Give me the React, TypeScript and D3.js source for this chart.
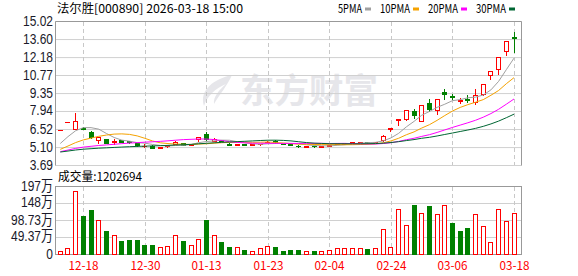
import React from 'react';
import * as d3 from 'd3';

// ---------- data ----------
const dates = [
  '12-15','12-16','12-17','12-18','12-19','12-22','12-23','12-24','12-25','12-26',
  '12-29','12-30','12-31','01-05','01-06','01-07','01-08','01-09','01-12','01-13',
  '01-14','01-15','01-16','01-19','01-20','01-21','01-22','01-23','01-26','01-27',
  '01-28','01-29','01-30','02-02','02-03','02-04','02-05','02-06','02-09','02-10',
  '02-11','02-12','02-13','02-24','02-25','02-26','02-27','03-02','03-03','03-04',
  '03-05','03-06','03-09','03-10','03-11','03-12','03-13','03-16','03-17','03-18',
];
const openP = [
  6.50,7.15,6.58,6.65,6.31,5.72,5.74,5.53,5.66,5.58,
  5.44,5.22,5.26,5.08,5.20,5.37,5.45,5.32,5.74,6.15,
  5.62,5.68,5.42,5.29,5.38,5.33,5.36,5.52,5.65,5.40,
  5.35,5.23,5.14,5.24,5.17,5.26,5.40,5.42,5.46,5.52,
  5.55,5.53,5.66,6.58,7.30,7.38,7.95,7.22,8.62,8.02,
  9.44,9.14,8.80,8.90,8.70,9.28,10.80,11.32,12.72,13.78,
];
const highP = [
  6.50,7.15,7.86,6.68,6.42,5.91,5.74,5.74,5.68,5.62,
  5.46,5.40,5.30,5.18,5.33,5.58,5.47,5.40,5.93,6.36,
  5.82,5.70,5.45,5.38,5.40,5.38,5.42,5.58,5.66,5.42,
  5.38,5.28,5.23,5.26,5.26,5.32,5.48,5.48,5.53,5.56,
  5.56,5.57,6.07,6.66,7.33,8.06,8.10,8.47,8.96,8.96,
  9.67,9.35,9.02,9.20,9.67,10.12,11.13,12.24,13.46,14.18,
];
const lowP = [
  6.50,7.15,6.55,6.55,5.88,5.48,5.44,5.37,5.52,5.47,
  5.21,5.18,5.08,5.05,5.17,5.35,5.30,5.28,5.63,5.72,
  5.58,5.58,5.30,5.27,5.30,5.30,5.34,5.50,5.44,5.35,
  5.31,5.12,5.12,5.17,5.15,5.24,5.38,5.40,5.44,5.50,
  5.49,5.51,5.63,6.40,6.84,7.30,7.45,7.20,7.96,7.73,
  8.90,8.94,8.62,8.67,8.49,9.25,10.53,10.85,12.37,12.63,
];
const closeP = [
  6.50,7.15,7.21,6.58,5.90,5.91,5.45,5.62,5.55,5.50,
  5.32,5.25,5.10,5.16,5.30,5.52,5.33,5.37,5.91,5.75,
  5.77,5.62,5.33,5.36,5.33,5.36,5.40,5.55,5.47,5.38,
  5.33,5.20,5.22,5.19,5.24,5.30,5.44,5.46,5.50,5.53,
  5.51,5.55,6.05,6.66,7.33,8.06,7.70,8.47,8.15,8.94,
  9.30,9.10,8.88,8.87,9.20,10.12,11.13,12.24,13.46,13.74,
];
// closes of the 29 sessions before the first visible day (only warm up the moving averages)
const priorCloses = [
  4.80,4.75,4.72,4.70,4.68,4.66,4.65,4.67,4.64,4.63,
  4.62,4.60,4.58,4.61,4.63,4.60,4.59,4.57,4.60,4.60,
  4.52,4.50,4.48,4.49,4.51,4.44,4.88,5.37,5.91,
];
// volume in 万 (10k shares)
const volume = [
  10.6,18,183,111,128,99.5,68,55.6,39,42,
  42,28,28,21,24,55.6,39,27,44,99.5,
  55.6,36,22,21,13.5,10,20,24,22,10.6,
  13.5,13.5,10.6,10.6,10.6,13.5,18,18,18,18,
  16,18,73,22,133,87,145,121.6,140,117,
  145,91,68,77,117,82,36,131,97,120.2694,
];
const maPeriods = [5, 10, 20, 30];
const maNames = ['5PMA', '10PMA', '20PMA', '30PMA'];
const priceTickLabels = ['15.02', '13.60', '12.18', '10.77', '9.35', '7.94', '6.52', '5.10', '3.69'];
const volTickValues = [197.46, 148.1, 98.73, 49.37, 0];
const volTickLabels = ['197万', '148万', '98.73万', '49.37万', '0'];
const dateTicks = ['12-18', '12-30', '01-13', '01-23', '02-04', '02-24', '03-06', '03-18'];
const titleText = '法尔胜[000890] 2026-03-18 15:00';
const volTitleText = '成交量:1202694';

// ---------- styles ----------
const RED = '#ff0000';
const GREEN = '#008000';
const maColors = ['#a0a0a0', '#f5a200', '#ff00ff', '#006633'];
const GRID = '#d0d0d0';
const FRAME = '#999999';
const DASH = '#c8c8c8';

const monoWidth = (s: string) => {
  let w = 0;
  for (const ch of s) w += /[^\x00-\x7f]/.test(ch) ? 12 : 6;
  return w;
};

const MonoText = ({ x, y, s, fill = '#000', anchor = 'start' }: any) => (
  <text
    x={x}
    y={y}
    fontFamily="'Noto Sans CJK SC', 'Noto Sans', sans-serif"
    fontSize={12}
    fill={fill}
    textAnchor={anchor}
    textLength={monoWidth(s)}
    lengthAdjust="spacingAndGlyphs"
  >
    {s}
  </text>
);

export default function App() {
  const W = 578, H = 276;
  const L = 55.5, R = 521.5;
  const n = closeP.length;
  const all = priorCloses.concat(closeP);
  const off = priorCloses.length;

  const xb = d3.scaleBand<number>().domain(d3.range(n)).range([56.45, 56.45 + n * 7.69]);
  const cx = (i: number) => (xb(i) as number) + xb.bandwidth() / 2;
  const y = d3.scaleLinear().domain([3.69, 15.02]).range([165.5, 21.5]);
  const yv = d3.scaleLinear().domain([0, 197.46]).range([254.5, 186.5]);

  const mas = maPeriods.map((p) =>
    d3.range(n).map((i) => d3.mean(all.slice(i + off - p + 1, i + off + 1)) as number)
  );
  const line = d3
    .line<number>()
    .x((_, i) => cx(i))
    .y((v) => y(v));

  const prevClose = (i: number) => all[i + off - 1];
  const candleUp = (i: number) =>
    closeP[i] > openP[i] || (closeP[i] === openP[i] && closeP[i] >= prevClose(i));

  const dateX = (d: string) => Math.round(cx(dates.indexOf(d))) + 0.5;

  return (
    <svg
      width={W}
      height={H}
      style={{ position: 'absolute', left: 0, top: 0, background: '#fff' }}
    >
      <rect x={0} y={0} width={W} height={H} fill="#fff" />
      {/* watermark */}
      <g fill="#e6e6ea">
        <path d="M232 75 C214 79 199 90 204 106 C207 96 216 88 226 84 C219 90 213 97 214 104 C220 94 227 86 232 75 Z" />
        <text
          x={240}
          y={103}
          fontFamily="'Noto Sans CJK SC', sans-serif"
          fontWeight={700}
          fontSize={34}
          textLength={138}
          lengthAdjust="spacingAndGlyphs"
        >
          东方财富
        </text>
      </g>

      {/* price grid */}
      {priceTickLabels.map((t) => (
        <line key={'pg' + t} x1={L} x2={R} y1={y(parseFloat(t))} y2={y(parseFloat(t))} stroke={GRID} />
      ))}
      {/* volume grid */}
      {volTickValues.map((v) => (
        <line key={'vg' + v} x1={L} x2={R} y1={yv(v)} y2={yv(v)} stroke={GRID} />
      ))}
      {/* vertical dashed */}
      {dateTicks.map((d) => (
        <g key={'vd' + d}>
          <line x1={dateX(d)} x2={dateX(d)} y1={22} y2={165} stroke={DASH} strokeDasharray="4,3" />
          <line x1={dateX(d)} x2={dateX(d)} y1={187} y2={254} stroke={DASH} strokeDasharray="4,3" />
        </g>
      ))}
      {/* frames */}
      <path d={`M${L} 165.5 V21.5 H${R} V165.5`} fill="none" stroke={FRAME} />
      <rect x={L} y={186.5} width={R - L} height={68} fill="none" stroke={FRAME} />

      {/* candles */}
      {d3.range(n).map((i) => {
        const up = candleUp(i);
        const col = up ? RED : GREEN;
        const left = Math.round(cx(i) - 2.5);
        const mid = left + 2.5;
        const tY = Math.round(y(Math.max(openP[i], closeP[i]))) + 0.5;
        const bY = Math.round(y(Math.min(openP[i], closeP[i]))) + 0.5;
        const hY = Math.round(y(highP[i])) + 0.5;
        const lY = Math.round(y(lowP[i])) + 0.5;
        const flat = bY - tY < 1;
        return (
          <g key={'c' + i}>
            {hY < lY && <line x1={mid} x2={mid} y1={hY - 0.5} y2={lY + 0.5} stroke={col} />}
            {flat ? (
              <line x1={left} x2={left + 5} y1={tY} y2={tY} stroke={col} />
            ) : up ? (
              <rect x={left + 0.5} y={tY} width={4} height={bY - tY} fill="#fff" stroke={col} />
            ) : (
              <rect x={left} y={tY - 0.5} width={5} height={bY - tY + 1} fill={col} />
            )}
          </g>
        );
      })}

      {/* moving averages */}
      {mas.map((m, k) => (
        <path key={'ma' + k} d={line(m) as string} fill="none" stroke={maColors[k]} strokeWidth={1} />
      ))}

      {/* volume bars */}
      {d3.range(n).map((i) => {
        const up = closeP[i] >= prevClose(i);
        const left = Math.round(cx(i) - 2.5);
        const top = Math.round(yv(volume[i]));
        return up ? (
          <rect key={'v' + i} x={left + 0.5} y={top + 0.5} width={4} height={254 - top} fill="#fff" stroke={RED} />
        ) : (
          <rect key={'v' + i} x={left} y={top} width={5} height={255 - top} fill={GREEN} />
        );
      })}

      {/* price axis labels */}
      {priceTickLabels.map((t) => (
        <text
          key={'pl' + t}
          transform={`translate(53,${y(parseFloat(t)) + 4}) scale(0.8,1)`}
          textAnchor="end"
          fontFamily="'Liberation Sans', Arial, sans-serif"
          fontSize={15}
          fill="#1a1a2a"
        >
          {t}
        </text>
      ))}
      {/* volume axis labels */}
      {volTickLabels.map((t, k) => (
        <text
          key={'vl' + t}
          transform={`translate(53,${yv(volTickValues[k]) + 4}) scale(0.8,1)`}
          textAnchor="end"
          fontFamily="'Liberation Sans', 'Noto Sans CJK SC', sans-serif"
          fontSize={15}
          fill="#1a1a2a"
        >
          {t}
        </text>
      ))}

      {/* date labels */}
      {dateTicks.map((d) => (
        <MonoText key={'dl' + d} x={dateX(d)} y={270} s={d} fill={RED} anchor="middle" />
      ))}

      {/* title */}
      <MonoText x={57} y={13} s={titleText} />
      <MonoText x={58} y={181} s={volTitleText} />

      {/* legend */}
      {(() => {
        let xpos = 338;
        return maNames.map((nm, k) => {
          const w = monoWidth(nm);
          const g = (
            <g key={'lg' + k}>
              <MonoText x={xpos} y={13} s={nm} />
              <rect x={xpos + w + 3} y={7.5} width={6} height={3} fill={maColors[k]} />
            </g>
          );
          xpos += w + 18;
          return g;
        });
      })()}
    </svg>
  );
}
